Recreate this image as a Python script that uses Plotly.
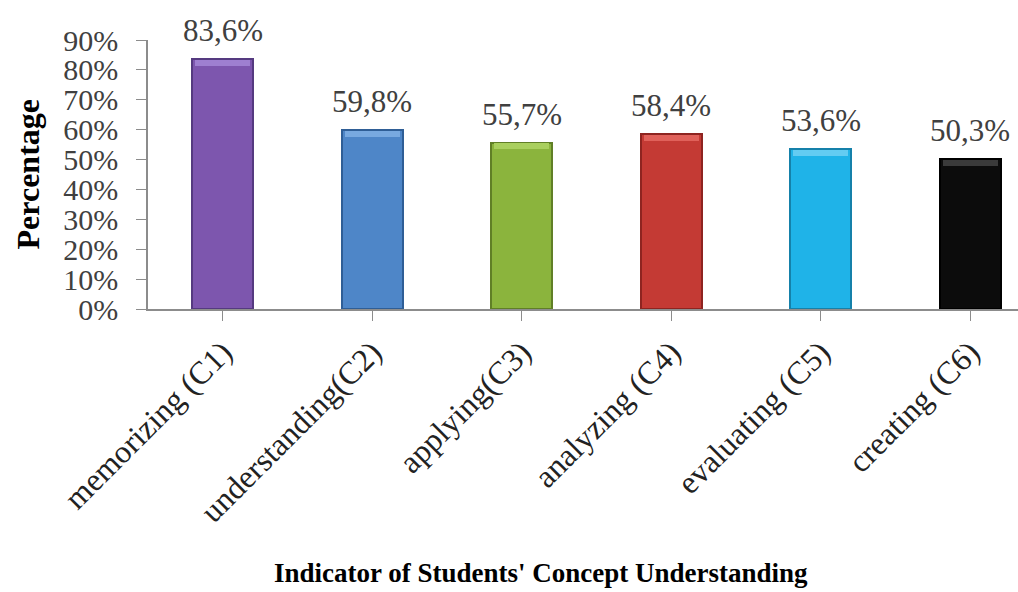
import plotly.graph_objects as go

# Concept-understanding indicators and their percentages
categories = ["memorizing (C1)", "understanding(C2)", "applying(C3)",
              "analyzing (C4)", "evaluating (C5)", "creating (C6)"]
percentages = [83.6, 59.8, 55.7, 58.4, 53.6, 50.3]
y_ticks = [0, 10, 20, 30, 40, 50, 60, 70, 80, 90]
y_tick_labels = [f"{t}%" for t in y_ticks]

# Bar palette: face colour, darker edge, lighter top bevel
face_colors = ["#7D56AE", "#4E86C8", "#8BB43D", "#C43A34", "#1FB3E8", "#0C0C0C"]
edge_colors = ["#553A80", "#2F5E96", "#607F26", "#8E2420", "#1581AA", "#000000"]
top_colors = ["#9E7FD0", "#78A9E0", "#A9CF5E", "#E0615A", "#63CCF2", "#3A3A3A"]

SERIF = "Liberation Serif, Times New Roman, serif"
x_idx = list(range(len(categories)))

fig = go.Figure()

# main bars with darker outline
fig.add_trace(go.Bar(
    x=x_idx, y=percentages, width=0.41,
    marker=dict(color=face_colors, line=dict(color=edge_colors, width=2)),
    hoverinfo="skip", showlegend=False,
))
# bevel highlight along the top of each bar
fig.add_trace(go.Bar(
    x=x_idx, y=[2.0] * len(percentages), base=[v - 2.3 for v in percentages],
    width=0.37, marker=dict(color=top_colors, line=dict(width=0)),
    hoverinfo="skip", showlegend=False,
))

# value labels above the bars
for i, v in enumerate(percentages):
    fig.add_annotation(
        x=i, y=v, xref="x", yref="y",
        text=f"{v:.1f}".replace(".", ",") + "%",
        showarrow=False, yanchor="bottom", yshift=9,
        font=dict(family=SERIF, size=31, color="#404040"),
    )

# axis titles
fig.add_annotation(
    text="<b>Percentage</b>", xref="paper", yref="paper",
    x=-0.138, y=0.5, xanchor="center", yanchor="middle",
    textangle=-90, showarrow=False,
    font=dict(family=SERIF, size=32, color="#000000"),
)
fig.add_annotation(
    text="<b>Indicator of Students' Concept Understanding</b>",
    xref="paper", yref="paper", x=0.452, y=-0.981,
    xanchor="center", yanchor="middle", showarrow=False,
    font=dict(family=SERIF, size=27, color="#000000"),
)

fig.update_layout(
    width=1018, height=592,
    margin=dict(l=148, r=0, t=40, b=283),
    paper_bgcolor="white", plot_bgcolor="white",
    barmode="overlay", bargap=0,
    xaxis=dict(
        range=[-0.5, 5.32], tickmode="array", tickvals=x_idx, ticktext=categories,
        tickson="boundaries", ticks="outside", ticklen=10, tickcolor="#8C8C8C",
        showline=True, linecolor="#8C8C8C", linewidth=1.5,
        showgrid=False, zeroline=False, tickangle=-45,
        tickfont=dict(family=SERIF, size=32, color="#222222"),
    ),
    yaxis=dict(
        range=[0, 90], tickmode="array", tickvals=y_ticks, ticktext=y_tick_labels,
        ticks="outside", ticklen=10, tickcolor="#8C8C8C",
        showline=True, linecolor="#8C8C8C", linewidth=1.5,
        showgrid=False, zeroline=False, ticklabelstandoff=12,
        tickfont=dict(family=SERIF, size=30, color="#404040"),
    ),
)

fig.write_html("out.html")
